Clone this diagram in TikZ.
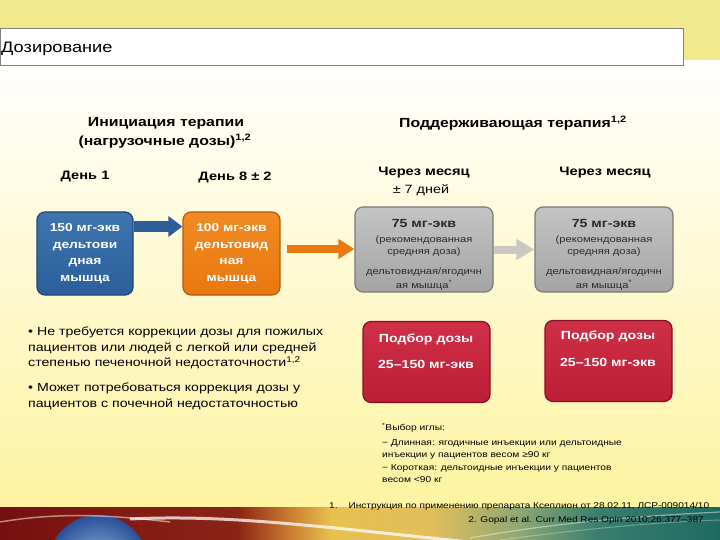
\documentclass[tikz,border=0pt]{standalone}
\usepackage{fontspec}
\setmainfont[FakeStretch=1.2]{Liberation Sans}
\usetikzlibrary{arrows.meta}
\definecolor{yband}{RGB}{242,232,142}
\definecolor{bgbot}{HTML}{FDF3A0}
\definecolor{boxblue}{HTML}{2C5F99}
\definecolor{boxblueD}{HTML}{1D4775}
\definecolor{boxblueL}{HTML}{3D74B0}
\definecolor{boxorange}{HTML}{E8780F}
\definecolor{boxorangeD}{HTML}{B85A08}
\definecolor{boxorangeL}{HTML}{F28A22}
\definecolor{boxgray}{HTML}{A4A4A4}
\definecolor{boxgrayL}{HTML}{C4C4C4}
\definecolor{boxgrayD}{HTML}{7A7A7A}
\definecolor{boxred}{HTML}{BC1E36}
\definecolor{boxredL}{HTML}{CF3048}
\definecolor{boxredD}{HTML}{861022}
\definecolor{arrgray}{HTML}{C9C9C2}
\definecolor{txtgray}{HTML}{2A2A2A}
\definecolor{fdred}{HTML}{761010}
\definecolor{fdred2}{HTML}{8A2416}
\definecolor{forange}{HTML}{C87A30}
\definecolor{fyellow}{HTML}{E8C050}
\definecolor{fyellow2}{HTML}{E2BE5C}
\definecolor{fgreen}{HTML}{8EA874}
\definecolor{fteal}{HTML}{3A7E6E}
\definecolor{fteal2}{HTML}{1E6A62}
\pgfdeclarehorizontalshading{footershade}{100bp}{color(0bp)=(fdred); color(25bp)=(fdred); color(41.5bp)=(fdred2); color(45bp)=(forange); color(48bp)=(fyellow); color(55bp)=(fyellow2); color(61bp)=(fgreen); color(66.5bp)=(fteal); color(75bp)=(fteal2); color(100bp)=(fteal2)}
\tikzset{
  colbox/.style={rounded corners=8pt, line width=1.2pt, inner sep=0pt, align=center,
     text=white, font=\fontsize{11.5}{16.5}\selectfont\bfseries},
  bluebox/.style={colbox, draw=boxblueD, top color=boxblueL, bottom color=boxblue, minimum width=96pt, minimum height=83pt},
  orangebox/.style={colbox, draw=boxorangeD, top color=boxorangeL, bottom color=boxorange, minimum width=97pt, minimum height=83pt},
  graybox/.style={colbox, draw=boxgrayD, top color=boxgrayL, bottom color=boxgray, minimum width=138pt, minimum height=85pt},
  redbox/.style={colbox, draw=boxredD, top color=boxredL, bottom color=boxred, minimum width=127pt, minimum height=81pt},
  boxlbl/.style={inner sep=0pt, text=white, font=\fontsize{11.8}{11.8}\selectfont\bfseries},
  graylbl/.style={inner sep=0pt, text=txtgray, font=\fontsize{9.3}{9.3}\selectfont},
  head/.style={inner sep=0pt, font=\fontsize{13.2}{13.2}\selectfont\bfseries},
  subhead/.style={inner sep=0pt, font=\fontsize{12.2}{12.2}\selectfont\bfseries},
  bul/.style={inner sep=0pt, anchor=west, font=\fontsize{11.8}{11.8}\selectfont},
  fnote/.style={inner sep=0pt, anchor=west, font=\fontsize{8.5}{8.5}\selectfont},
  refnote/.style={inner sep=0pt, font=\fontsize{8.4}{8.4}\selectfont},
}
\begin{document}
\begin{tikzpicture}[x=1pt,y=-1pt]
\useasboundingbox (0,0) rectangle (720,540);
% background
\shade[top color=white, bottom color=bgbot] (0,60) rectangle (720,508);
\path[fill=yband] (0,0) rectangle (720,60);
% footer strip
\begin{scope}
\clip (0,507) rectangle (720,540);
\shade[shading=footershade] (0,507) rectangle (720,540);
\shade[inner color={rgb,255:red,150;green,185;blue,225}, outer color={rgb,255:red,40;green,80;blue,150}] (98,565) circle (50);
\draw[white, opacity=0.75, line width=3pt] (130,519) .. controls (230,514) and (330,528) .. (470,542);
\draw[white, opacity=0.5, line width=1.5pt] (0,522) .. controls (60,512) and (110,515) .. (170,522);
\draw[white, opacity=0.45, line width=1.2pt] (470,538) .. controls (560,522) and (640,516) .. (720,512);
\draw[white, opacity=0.3, line width=1pt] (500,540) .. controls (590,528) and (660,522) .. (720,520);
\end{scope}
% title box
\node[draw={rgb,255:red,128;green,128;blue,128}, fill=white, line width=0.8pt, minimum width=683pt, minimum height=37pt, anchor=north west, inner sep=0pt] (titlebox) at (0,28) {};
\node[inner sep=0pt, anchor=west, font=\fontsize{15.2}{15.2}\selectfont] (title) at (1,49) {Дозирование};
% headings
\node[head] (h1) at (166,123) {Инициация терапии};
\node[head] (h1b) at (165,141) {(нагрузочные дозы)\textsuperscript{1,2}};
\node[head] (h2) at (513,123) {Поддерживающая терапия\textsuperscript{1,2}};
\node[subhead] (d1) at (85,177) {День 1};
\node[subhead] (d8) at (235,177) {День 8 ± 2};
\node[subhead] (m1) at (424,173) {Через месяц};
\node[inner sep=0pt, font=\fontsize{12}{12}\selectfont] (m1b) at (421,190) {± 7 дней};
\node[subhead] (m2) at (605,173) {Через месяц};
% boxes
\node[bluebox] (b1) at (85,253.5) {150 мг-экв\\дельтови\\дная\\мышца};
\node[orangebox] (b2) at (231.5,253.5) {100 мг-экв\\дельтовид\\ная\\мышца};
\node[graybox] (g1) at (424,249.5) {};
\node[graybox] (g2) at (604,249.5) {};
\node[redbox] (r1) at (426.5,362) {};
\node[redbox] (r2) at (608.5,361) {};
% gray box labels
\node[boxlbl, text=txtgray] (g1t) at (424,223) {75 мг-экв};
\node[graylbl] (g1a) at (424,240) {(рекомендованная};
\node[graylbl] (g1b) at (424,252) {средняя доза)};
\node[graylbl] (g1c) at (424,272) {дельтовидная/ягодичн};
\node[graylbl] (g1d) at (424,285) {ая мышца\textsuperscript{*}};
\node[boxlbl, text=txtgray] (g2t) at (604,223) {75 мг-экв};
\node[graylbl] (g2a) at (604,240) {(рекомендованная};
\node[graylbl] (g2b) at (604,252) {средняя доза)};
\node[graylbl] (g2c) at (604,272) {дельтовидная/ягодичн};
\node[graylbl] (g2d) at (604,285) {ая мышца\textsuperscript{*}};
% red box labels
\node[boxlbl] (r1t) at (426,339) {Подбор дозы};
\node[boxlbl] (r1b) at (426,364) {25–150 мг-экв};
\node[boxlbl] (r2t) at (608,336) {Подбор дозы};
\node[boxlbl] (r2b) at (608,362) {25–150 мг-экв};
% arrows
\coordinate (a1s) at ([yshift=27pt]b1.east);
\coordinate (a2s) at ([yshift=4.5pt]b2.east);
\draw[boxblue, line width=10pt, -{Triangle[length=14pt,width=20pt]}] (a1s) -- (a1s -| b2.west);
\draw[boxorange, line width=8pt, -{Triangle[length=16pt,width=19pt]}] ([xshift=6pt]a2s) -- (a2s -| g1.west);
\draw[arrgray, line width=8pt, -{Triangle[length=18pt,width=20pt]}] (g1.east) -- (g2.west);
% bullets
\node[bul] (p1) at (28,332) {• Не требуется коррекции дозы для пожилых};
\node[bul] (p2) at (28,348) {пациентов или людей с легкой или средней};
\node[bul] (p3) at (28,363) {степенью печеночной недостаточности\textsuperscript{1,2}};
\node[bul] (p4) at (28,388) {• Может потребоваться коррекция дозы у};
\node[bul] (p5) at (28,404) {пациентов с почечной недостаточностью};
% footnote
\node[fnote] (f1) at (382,428) {\textsuperscript{*}Выбор иглы:};
\node[fnote] (f2) at (382,443) {− Длинная: ягодичные инъекции или дельтоидные};
\node[fnote] (f3) at (382,455) {инъекции у пациентов весом ≥90 кг};
\node[fnote] (f4) at (382,468) {− Короткая: дельтоидные инъекции у пациентов};
\node[fnote] (f5) at (382,480) {весом <90 кг};
% references
\node[refnote, anchor=west] (ref1) at (329,506) {1.\hspace{11pt}Инструкция по применению препарата Ксеплион от 28.02.11, ЛСР-009014/10};
\node[refnote, anchor=east] (ref2) at (704,520) {2. Gopal et al. Curr Med Res Opin 2010;26:377–387};
\end{tikzpicture}
\end{document}
